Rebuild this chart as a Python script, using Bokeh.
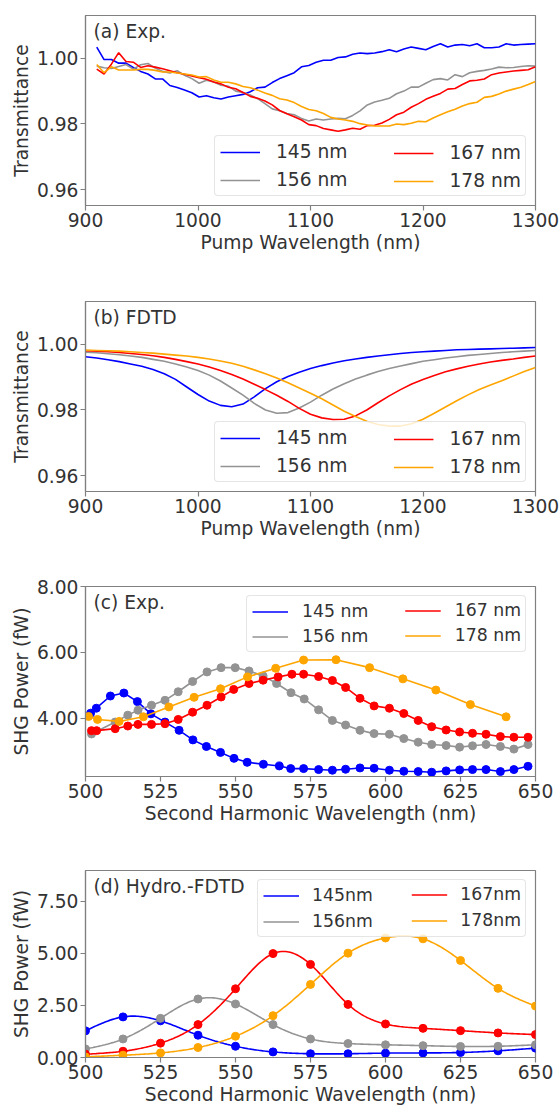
import numpy as np
from bokeh.plotting import figure
from bokeh.layouts import column
from bokeh.models import Legend, LegendItem, FixedTicker, PrintfTickFormatter, Label, Range1d
from bokeh.embed import file_html
from bokeh.resources import INLINE

# ---------------------------------------------------------------- data
thickness_labels = ["145 nm", "156 nm", "167 nm", "178 nm"]
hydro_labels = ["145nm", "156nm", "167nm", "178nm"]

# (a) measured transmittance vs pump wavelength
exp_pump_nm = [910, 916.5, 923, 929.5, 936, 942.5, 949, 955.5, 962, 968.5,
               975, 981.5, 988, 994.5, 1001, 1007.5, 1014, 1020.5, 1027, 1033.5,
               1040, 1046.5, 1053, 1059.5, 1066, 1072.5, 1079, 1085.5, 1092, 1098.5,
               1105, 1111.5, 1118, 1124.5, 1131, 1137.5, 1144, 1150.5, 1157, 1163.5,
               1170, 1176.5, 1183, 1189.5, 1196, 1202.5, 1209, 1215.5, 1222, 1228.5,
               1235, 1241.5, 1248, 1254.5, 1261, 1267.5, 1274, 1280.5, 1287, 1293.5, 1300]
exp_t_145 = [1.0034, 0.9996, 0.9996, 0.9985, 0.9985, 0.9972, 0.9960, 0.9952, 0.9937, 0.9937,
             0.9917, 0.9911, 0.9903, 0.9895, 0.9882, 0.9886, 0.9880, 0.9876, 0.9882, 0.9886,
             0.9890, 0.9898, 0.9910, 0.9912, 0.9926, 0.9938, 0.9947, 0.9956, 0.9974, 0.9978,
             0.9988, 0.9994, 0.9994, 1.0002, 1.0004, 1.0012, 1.0016, 1.0014, 1.0016, 1.0020,
             1.0026, 1.0020, 1.0028, 1.0034, 1.0030, 1.0026, 1.0036, 1.0044, 1.0034, 1.0040,
             1.0042, 1.0038, 1.0044, 1.0032, 1.0032, 1.0034, 1.0044, 1.0040, 1.0042, 1.0043, 1.0044]
exp_t_156 = [0.9976, 0.9971, 0.9969, 0.9975, 0.9981, 0.9967, 0.9980, 0.9984, 0.9970, 0.9960,
             0.9955, 0.9962, 0.9948, 0.9938, 0.9924, 0.9933, 0.9928, 0.9918, 0.9915, 0.9900,
             0.9896, 0.9888, 0.9877, 0.9862, 0.9846, 0.9840, 0.9832, 0.9828, 0.9817, 0.9809,
             0.9815, 0.9812, 0.9815, 0.9817, 0.9816, 0.9826, 0.9840, 0.9858, 0.9867, 0.9872,
             0.9878, 0.9892, 0.9900, 0.9912, 0.9912, 0.9924, 0.9935, 0.9938, 0.9934, 0.9950,
             0.9944, 0.9956, 0.9960, 0.9963, 0.9967, 0.9973, 0.9971, 0.9972, 0.9975, 0.9977, 0.9976]
exp_t_167 = [0.9967, 0.9952, 0.9982, 1.0017, 0.9990, 0.9988, 0.9972, 0.9977, 0.9973, 0.9968,
             0.9962, 0.9956, 0.9951, 0.9946, 0.9941, 0.9936, 0.9928, 0.9922, 0.9912, 0.9907,
             0.9896, 0.9884, 0.9878, 0.9870, 0.9858, 0.9841, 0.9831, 0.9822, 0.9812, 0.9798,
             0.9795, 0.9786, 0.9782, 0.9778, 0.9782, 0.9787, 0.9784, 0.9795, 0.9796, 0.9803,
             0.9814, 0.9828, 0.9836, 0.9851, 0.9862, 0.9875, 0.9884, 0.9893, 0.9906, 0.9908,
             0.9920, 0.9931, 0.9933, 0.9937, 0.9950, 0.9955, 0.9958, 0.9961, 0.9963, 0.9965, 0.9974]
exp_t_178 = [0.9981, 0.9956, 0.9974, 0.9964, 0.9964, 0.9964, 0.9966, 0.9966, 0.9963, 0.9958,
             0.9958, 0.9955, 0.9952, 0.9949, 0.9943, 0.9944, 0.9934, 0.9927, 0.9927, 0.9922,
             0.9914, 0.9910, 0.9903, 0.9894, 0.9887, 0.9877, 0.9873, 0.9865, 0.9853, 0.9844,
             0.9840, 0.9832, 0.9820, 0.9815, 0.9812, 0.9808, 0.9801, 0.9797, 0.9794, 0.9794,
             0.9794, 0.9800, 0.9798, 0.9802, 0.9808, 0.9807, 0.9818, 0.9828, 0.9837, 0.9845,
             0.9855, 0.9862, 0.9866, 0.9881, 0.9884, 0.9891, 0.9900, 0.9906, 0.9912, 0.9920, 0.9929]

# (b) simulated transmittance
fdtd_pump_nm = [900, 910, 920, 930, 940, 950, 960, 970, 980, 990,
                1000, 1010, 1020, 1030, 1040, 1050, 1060, 1070, 1080, 1090,
                1100, 1110, 1120, 1130, 1140, 1150, 1160, 1170, 1180, 1190,
                1200, 1210, 1220, 1230, 1240, 1250, 1260, 1270, 1280, 1290, 1300]
fdtd_t_145 = [0.9962, 0.9958, 0.9953, 0.9947, 0.9940, 0.9933, 0.9923, 0.9910, 0.9893, 0.9870,
              0.9847, 0.9827, 0.9814, 0.9810, 0.9818, 0.9840, 0.9865, 0.9886, 0.9902, 0.9915,
              0.9926, 0.9935, 0.9943, 0.9950, 0.9955, 0.9960, 0.9964, 0.9968, 0.9972, 0.9975,
              0.9977, 0.9979, 0.9981, 0.9983, 0.9984, 0.9985, 0.9986, 0.9987, 0.9988, 0.9989, 0.9990]
fdtd_t_156 = [0.9976, 0.9974, 0.9971, 0.9968, 0.9964, 0.9960, 0.9954, 0.9948, 0.9940, 0.9931,
              0.9920, 0.9906, 0.9888, 0.9867, 0.9845, 0.9820, 0.9800, 0.9790, 0.9792, 0.9806,
              0.9824, 0.9845, 0.9864, 0.9880, 0.9894, 0.9906, 0.9917, 0.9926, 0.9934, 0.9941,
              0.9948, 0.9953, 0.9958, 0.9962, 0.9966, 0.9969, 0.9972, 0.9975, 0.9977, 0.9979, 0.9981]
fdtd_t_167 = [0.9980, 0.9979, 0.9977, 0.9975, 0.9972, 0.9969, 0.9965, 0.9960, 0.9954, 0.9947,
              0.9940, 0.9931, 0.9920, 0.9908, 0.9894, 0.9878, 0.9862, 0.9845, 0.9826, 0.9805,
              0.9787, 0.9776, 0.9771, 0.9772, 0.9782, 0.9800, 0.9822, 0.9843, 0.9862, 0.9879,
              0.9893, 0.9905, 0.9916, 0.9925, 0.9933, 0.9940, 0.9946, 0.9951, 0.9955, 0.9960, 0.9964]
fdtd_t_178 = [0.9982, 0.9981, 0.9980, 0.9979, 0.9977, 0.9975, 0.9973, 0.9970, 0.9967, 0.9964,
              0.9960, 0.9955, 0.9949, 0.9942, 0.9933, 0.9922, 0.9910, 0.9897, 0.9883, 0.9867,
              0.9851, 0.9834, 0.9815, 0.9796, 0.9780, 0.9766, 0.9756, 0.9751, 0.9751, 0.9758,
              0.9772, 0.9790, 0.9809, 0.9828, 0.9846, 0.9862, 0.9876, 0.9889, 0.9903, 0.9917, 0.9929]

# (c) measured SHG power
shg_x_145 = [501.7, 503.6, 508.3, 512.8, 517.3, 521.8, 526.5, 531.2, 535.8, 540.3,
             545.0, 549.5, 553.9, 559.3, 564.6, 568.4, 572.7, 577.7, 582.3, 586.7,
             591.5, 596.2, 601.3, 606.1, 610.9, 615.4, 620.2, 624.7, 629.0, 633.5,
             638.3, 642.8, 647.5]
shg_p_145 = [4.16, 4.31, 4.68, 4.77, 4.51, 4.14, 3.89, 3.64, 3.35, 3.15,
             2.97, 2.79, 2.67, 2.61, 2.56, 2.48, 2.48, 2.45, 2.43, 2.46,
             2.50, 2.49, 2.43, 2.40, 2.39, 2.37, 2.41, 2.44, 2.45, 2.45,
             2.39, 2.45, 2.55]
shg_x_156 = [502.0, 509.9, 514.1, 517.5, 522.0, 526.5, 530.9, 535.7, 540.5, 545.2,
             549.9, 554.5, 559.2, 563.7, 568.5, 572.9, 577.7, 582.3, 586.7, 591.5,
             596.2, 601.3, 606.1, 610.9, 615.4, 620.2, 624.7, 629.0, 633.5, 638.3,
             642.8, 647.5]
shg_p_156 = [3.53, 3.89, 4.10, 4.25, 4.40, 4.55, 4.81, 5.12, 5.41, 5.54,
             5.54, 5.44, 5.29, 5.06, 4.78, 4.59, 4.26, 3.94, 3.80, 3.64,
             3.54, 3.52, 3.39, 3.28, 3.21, 3.18, 3.13, 3.17, 3.21, 3.15,
             3.07, 3.21]
shg_x_167 = [502.0, 503.7, 509.9, 514.1, 517.5, 522.0, 526.5, 530.9, 535.7, 540.5,
             545.2, 549.4, 554.5, 559.2, 564.2, 568.8, 572.7, 577.7, 582.3, 586.7,
             591.5, 596.2, 601.3, 606.1, 610.9, 615.4, 620.2, 624.7, 629.0, 633.5,
             638.3, 642.8, 647.5]
shg_p_167 = [3.63, 3.63, 3.69, 3.77, 3.82, 3.82, 3.84, 3.97, 4.19, 4.40,
             4.65, 4.88, 5.06, 5.16, 5.26, 5.34, 5.34, 5.27, 5.15, 4.94,
             4.61, 4.38, 4.31, 4.15, 3.94, 3.75, 3.65, 3.59, 3.55, 3.52,
             3.45, 3.43, 3.43]
shg_x_178 = [501.0, 504.0, 511.2, 519.3, 527.8, 536.2, 545.0, 554.0, 563.4, 572.7,
             583.5, 594.7, 605.8, 616.8, 628.3, 640.2]
shg_p_178 = [4.06, 3.97, 3.91, 4.05, 4.35, 4.64, 4.90, 5.26, 5.52, 5.77,
             5.78, 5.54, 5.20, 4.86, 4.42, 4.05]

# (d) hydrodynamic-FDTD SHG power
sim_sh_nm = [500, 512.5, 525, 537.5, 550, 562.5, 575, 587.5, 600, 612.5, 625, 637.5, 650]
sim_p_145 = [1.28, 1.95, 1.76, 1.07, 0.54, 0.27, 0.18, 0.18, 0.21, 0.22, 0.24, 0.32, 0.45]
sim_p_156 = [0.41, 0.89, 1.88, 2.81, 2.57, 1.58, 0.89, 0.67, 0.61, 0.57, 0.53, 0.54, 0.61]
sim_p_167 = [0.16, 0.30, 0.69, 1.58, 3.30, 4.99, 4.47, 2.55, 1.61, 1.40, 1.29, 1.18, 1.10]
sim_p_178 = [0.03, 0.11, 0.22, 0.48, 1.02, 2.01, 3.51, 5.01, 5.74, 5.70, 4.66, 3.32, 2.47]

pump_ticks = [900, 1000, 1100, 1200, 1300]
sh_ticks = [500, 525, 550, 575, 600, 625, 650]
trans_ticks = [0.96, 0.98, 1.00]
shg_exp_ticks = [4.0, 6.0, 8.0]
shg_sim_ticks = [0.0, 2.5, 5.0, 7.5]

# ---------------------------------------------------------------- style
FONT = "DejaVu Sans"
TEXT = "#333333"
FRAME = "#808080"
SERIES_COLORS = ["#0000ff", "#939393", "#ff0000", "#ffa500"]
BIG = "18.67px"
SMALL = "17.3px"


def natural_spline(x, y, n=300):
    """Smooth curve through the points (natural cubic spline)."""
    x = np.asarray(x, float)
    y = np.asarray(y, float)
    m = len(x)
    h = np.diff(x)
    A = np.zeros((m, m))
    r = np.zeros(m)
    A[0, 0] = A[-1, -1] = 1.0
    for i in range(1, m - 1):
        A[i, i - 1] = h[i - 1]
        A[i, i] = 2 * (h[i - 1] + h[i])
        A[i, i + 1] = h[i]
        r[i] = 3 * ((y[i + 1] - y[i]) / h[i] - (y[i] - y[i - 1]) / h[i - 1])
    c = np.linalg.solve(A, r)
    b = (y[1:] - y[:-1]) / h - h * (2 * c[:-1] + c[1:]) / 3
    d = (c[1:] - c[:-1]) / (3 * h)
    xs = np.linspace(x[0], x[-1], n)
    idx = np.clip(np.searchsorted(x, xs) - 1, 0, m - 2)
    dx = xs - x[idx]
    ys = y[idx] + b[idx] * dx + c[idx] * dx ** 2 + d[idx] * dx ** 3
    return xs, ys


def make_panel(xr, yr, xticks, yticks, xlabel, ylabel, tag, top, frame_h, bottom):
    p = figure(frame_width=450, frame_height=frame_h,
               x_range=Range1d(*xr), y_range=Range1d(*yr),
               min_border_left=85, min_border_right=24,
               min_border_top=top, min_border_bottom=bottom,
               output_backend="svg", toolbar_location=None,
               background_fill_color="white", border_fill_color="white")
    p.xgrid.visible = False
    p.ygrid.visible = False
    p.outline_line_color = FRAME
    p.outline_line_width = 1.2
    for ax, ticks, label, fmt in ((p.xaxis[0], xticks, xlabel, "%d"),
                                  (p.yaxis[0], yticks, ylabel, "%.2f")):
        ax.ticker = FixedTicker(ticks=ticks)
        ax.formatter = PrintfTickFormatter(format=fmt)
        ax.axis_label = label
        ax.axis_line_color = FRAME
        ax.axis_line_width = 1.2
        ax.major_tick_line_color = FRAME
        ax.major_tick_line_width = 1.2
        ax.major_tick_in = 0
        ax.major_tick_out = 5
        ax.minor_tick_line_color = None
        ax.major_label_text_font = FONT
        ax.major_label_text_font_size = BIG
        ax.major_label_text_color = TEXT
        ax.axis_label_text_font = FONT
        ax.axis_label_text_font_size = BIG
        ax.axis_label_text_color = TEXT
        ax.axis_label_text_font_style = "normal"
        ax.major_label_standoff = 2
        ax.axis_label_standoff = 2
    p.add_layout(Label(x=xr[0], y=yr[1], x_offset=8, y_offset=-5, text=tag,
                       text_baseline="top", text_align="left", text_font=FONT,
                       text_font_size=BIG, text_color=TEXT))
    return p


def add_two_column_legend(p, renderers, labels, location, font_size, glyph_w,
                          standoff, row_h, spacing, pad, box_w, margin):
    # the framed legend holds the first column and spans the whole box;
    # the second column sits over its right part with an invisible frame
    common = dict(location=location, margin=margin, spacing=spacing, padding=pad,
                  glyph_width=glyph_w, glyph_height=row_h, label_height=row_h,
                  label_standoff=standoff, label_text_font=FONT,
                  label_text_font_size=font_size, label_text_color=TEXT)
    left = Legend(items=[LegendItem(label=labels[0], renderers=[renderers[0]]),
                         LegendItem(label=labels[1], renderers=[renderers[1]])],
                  label_width=box_w - 2 * pad - glyph_w - standoff,
                  border_line_color="#cccccc", border_line_width=1,
                  background_fill_color="white", background_fill_alpha=0.8,
                  border_radius=4, **common)
    right = Legend(items=[LegendItem(label=labels[2], renderers=[renderers[2]]),
                          LegendItem(label=labels[3], renderers=[renderers[3]])],
                   border_line_color="white", border_line_alpha=0.0,
                   background_fill_alpha=0.0, **common)
    p.add_layout(left)
    p.add_layout(right)


# ---------------------------------------------------------------- (a)
pa = make_panel((900, 1300), (0.9552, 1.0130), pump_ticks, trans_ticks,
                "Pump Wavelength (nm)", "Transmittance", "(a) Exp.", 15, 190, 60)
ra = [pa.line(exp_pump_nm, t, line_color=c, line_width=1.6)
      for t, c in zip([exp_t_145, exp_t_156, exp_t_167, exp_t_178], SERIES_COLORS)]
add_two_column_legend(pa, ra, thickness_labels, "bottom_right", BIG, 40, 16, 20, 7, 5, 310, 9)

# ---------------------------------------------------------------- (b)
pb = make_panel((900, 1300), (0.9552, 1.0130), pump_ticks, trans_ticks,
                "Pump Wavelength (nm)", "Transmittance", "(b) FDTD", 36, 190, 60)
rb = [pb.line(fdtd_pump_nm, t, line_color=c, line_width=1.6)
      for t, c in zip([fdtd_t_145, fdtd_t_156, fdtd_t_167, fdtd_t_178], SERIES_COLORS)]
add_two_column_legend(pb, rb, thickness_labels, "bottom_right", BIG, 40, 16, 20, 7, 5, 310, 9)

# ---------------------------------------------------------------- (c)
pc = make_panel((500, 650), (2.24, 8.0), sh_ticks, shg_exp_ticks,
                "Second Harmonic Wavelength (nm)", "SHG Power (fW)", "(c) Exp.", 35, 190, 60)
rc = []
for xs, ys, c in zip([shg_x_145, shg_x_156, shg_x_167, shg_x_178],
                     [shg_p_145, shg_p_156, shg_p_167, shg_p_178], SERIES_COLORS):
    rc.append(pc.line(xs, ys, line_color=c, line_width=1.6))
    pc.scatter(xs, ys, size=8, fill_color=c, line_color=c)
add_two_column_legend(pc, rc, thickness_labels, "top_right", SMALL, 36, 14, 19, 5, 5, 278, 9)

# ---------------------------------------------------------------- (d)
pd_ = make_panel((500, 650), (0.0, 8.98), sh_ticks, shg_sim_ticks,
                 "Second Harmonic Wavelength (nm)", "SHG Power (fW)", "(d) Hydro.-FDTD", 34, 187, 50)
rd = []
for ys, c in zip([sim_p_145, sim_p_156, sim_p_167, sim_p_178], SERIES_COLORS):
    cx, cy = natural_spline(sim_sh_nm, ys)
    rd.append(pd_.line(cx, cy, line_color=c, line_width=1.6))
    pd_.scatter(sim_sh_nm, ys, size=8, fill_color=c, line_color=c)
add_two_column_legend(pd_, rd, hydro_labels, "top_right", SMALL, 36, 13, 19, 6, 5, 267, 9)

layout = column(pa, pb, pc, pd_, spacing=0)
open("out.html", "w").write(file_html(layout, INLINE))
